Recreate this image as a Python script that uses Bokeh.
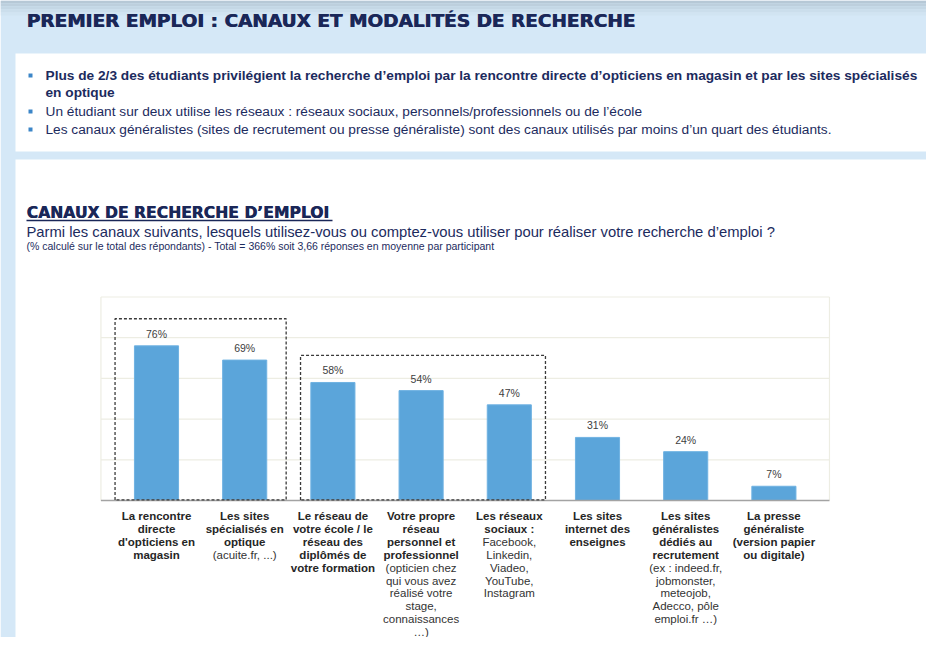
from bokeh.plotting import figure
from bokeh.models import Range1d, ColumnDataSource
from bokeh.core.properties import value
from bokeh.embed import file_html
from bokeh.resources import INLINE

# ---------------- data ----------------
categories = [
    "La rencontre directe d'opticiens en magasin",
    "Les sites spécialisés en optique",
    "Le réseau de votre école / le réseau des diplômés de votre formation",
    "Votre propre réseau personnel et professionnel",
    "Les réseaux sociaux",
    "Les sites internet des enseignes",
    "Les sites généralistes dédiés au recrutement",
    "La presse généraliste",
]
values = [76, 69, 58, 54, 47, 31, 24, 7]
value_labels = ["76%", "69%", "58%", "54%", "47%", "31%", "24%", "7%"]

label_bold = [
    ["La rencontre", "directe", "d'opticiens en", "magasin"],
    ["Les sites", "spécialisés en", "optique"],
    ["Le réseau de", "votre école / le", "réseau des", "diplômés de", "votre formation"],
    ["Votre propre", "réseau", "personnel et", "professionnel"],
    ["Les réseaux", "sociaux :"],
    ["Les sites", "internet des", "enseignes"],
    ["Les sites", "généralistes", "dédiés au", "recrutement"],
    ["La presse", "généraliste", "(version papier", "ou digitale)"],
]
label_normal = [
    [],
    ["(acuite.fr, ...)"],
    [],
    ["(opticien chez", "qui vous avez", "réalisé votre", "stage,", "connaissances", "…)"],
    ["Facebook,", "Linkedin,", "Viadeo,", "YouTube,", "Instagram"],
    [],
    ["(ex : indeed.fr,", "jobmonster,", "meteojob,", "Adecco, pôle", "emploi.fr …)"],
    [],
]
groups = [[0, 1], [2, 3, 4]]
grid_ticks = [20, 40, 60, 80, 100]

page_title = "PREMIER EMPLOI : CANAUX ET MODALITÉS DE RECHERCHE"
bullets = [
    ("Plus de 2/3 des étudiants privilégient la recherche d’emploi par la rencontre directe d’opticiens en magasin et par les sites spécialisés", "bold", True),
    ("en optique", "bold", False),
    ("Un étudiant sur deux utilise les réseaux : réseaux sociaux, personnels/professionnels ou de l’école", "normal", True),
    ("Les canaux généralistes (sites de recrutement ou presse généraliste) sont des canaux utilisés par moins d’un quart des étudiants.", "normal", True),
]
chart_title = "CANAUX DE RECHERCHE D’EMPLOI"
chart_question = "Parmi les canaux suivants, lesquels utilisez-vous ou comptez-vous utiliser pour réaliser votre recherche d’emploi ?"
chart_note = "(% calculé sur le total des répondants) - Total = 366% soit 3,66 réponses en moyenne par participant"

# ---------------- layout constants ----------------
W, H = 926, 637
X0, DX = 156.0, 88.2      # picture x of first bar centre, px per category
Y0, DY = 500.0, 2.035     # picture y of value 0, px per %
PAD = 0.13

FONT = value("Liberation Sans")
NAVY = "#1C2B5E"
DARKNAVY = "#1A2758"
LIGHT = "#D5E8F7"

p = figure(width=W, height=H, output_backend="svg", toolbar_location=None,
           x_range=Range1d((0 - X0) / DX, (W - X0) / DX),
           y_range=Range1d((Y0 - H) / DY, Y0 / DY),
           x_axis_type=None, y_axis_type=None, min_border=0,
           outline_line_color=None, background_fill_color="white",
           border_fill_color="white")
p.grid.visible = False
p.extra_x_ranges = {"px": Range1d(0, W)}
p.extra_y_ranges = {"py": Range1d(H, 0)}
PG = dict(x_range_name="px", y_range_name="py")

# ---------------- page background ----------------
p.quad(left=0, right=W, top=0, bottom=H, fill_color=LIGHT, line_color=None, **PG)
for (t, b, c) in [(0, 3, "#B6C8D6"), (3, 6, "#BDCFDD"), (6, 9, "#C4D7E5"),
                  (9, 12, "#CBDEEC"), (12, 15, "#D1E4F2")]:
    p.quad(left=0, right=W, top=t, bottom=b, fill_color=c, line_color=None, **PG)
p.quad(left=15, right=W, top=53, bottom=151, fill_color="white", line_color=None, **PG)
p.quad(left=15, right=W, top=159, bottom=H, fill_color="white", line_color=None, **PG)

# heavy title (drawn twice, slightly offset, for extra weight)
p.text(x=[26, 26.7], y=[19.5, 19.5], text=[page_title, page_title], text_font=value("DejaVu Sans"),
       text_font_style="bold", text_font_size="18.5px", text_color=DARKNAVY,
       text_baseline="middle", **PG)

by = [75, 92, 111, 129]
for (txt, style, has_bullet), yy in zip(bullets, by):
    p.text(x=[45], y=[yy], text=[txt], text_font=FONT, text_font_style=style,
           text_font_size="13.7px", text_color=NAVY, text_baseline="middle", **PG)
    if has_bullet:
        p.scatter(x=[30], y=[yy], marker="square", size=4, fill_color="#3C86C8",
                  line_color=None, **PG)

p.text(x=[26, 26.5], y=[212.5, 212.5], text=[chart_title, chart_title], text_font=value("DejaVu Sans"),
       text_font_style="bold", text_font_size="15.6px", text_color=DARKNAVY,
       text_baseline="middle", **PG)
p.segment(x0=[26], x1=[332], y0=[220], y1=[220], line_color=DARKNAVY, line_width=1.3, **PG)
p.text(x=[26], y=[231.5], text=[chart_question], text_font=FONT,
       text_font_size="14.8px", text_color=NAVY, text_baseline="middle", **PG)
p.text(x=[26], y=[245.5], text=[chart_note], text_font=FONT,
       text_font_size="10.5px", text_color=NAVY, text_baseline="middle", **PG)

# ---------------- chart ----------------
n = len(values)
xs = list(range(n))
xl, xr = -0.5 - PAD, n - 0.5 + PAD

p.segment(x0=[xl] * len(grid_ticks), x1=[xr] * len(grid_ticks), y0=grid_ticks, y1=grid_ticks,
          line_color="#EDEDE3", line_width=1.2)
p.segment(x0=[xl, xr], x1=[xl, xr], y0=[0, 0], y1=[100, 100], line_color="#EDEDE3", line_width=1.2)

src = ColumnDataSource(dict(x=xs, top=values, lab=value_labels))
p.vbar(x="x", top="top", bottom=0, width=0.5, source=src, fill_color="#5BA5DA",
       line_color="#6FB2E2", line_width=1)
p.segment(x0=[xl], x1=[xr], y0=[0], y1=[0], line_color="#A3A3A3", line_width=1.5)

p.text(x="x", y="top", text="lab", source=src, text_font=FONT, text_font_size="10.5px",
       text_color="#404040", text_align="center", text_baseline="bottom", y_offset=-6)

margins = [(0.47, 0.47), (0.367, 0.41)]
for g, (ml, mr) in zip(groups, margins):
    top = max(values[i] for i in g) + 13.3
    l, r = min(g) - ml, max(g) + mr
    p.line(x=[l, l, r, r, l], y=[0.3, top, top, 0.3, 0.3], line_color="#3A3A3A",
           line_width=1.3, line_dash="3 2")

LS, L0 = 12.9, 15.5
bx, by_, bt, nx, ny, nt = [], [], [], [], [], []
for i, (bl, nl) in enumerate(zip(label_bold, label_normal)):
    k = 0
    for t in bl:
        bx.append(i); by_.append(L0 + LS * k); bt.append(t); k += 1
    for t in nl:
        nx.append(i); ny.append(L0 + LS * k); nt.append(t); k += 1
p.text(x=bx, y=[0] * len(bx), y_offset=by_, text=bt, text_font=FONT, text_font_style="bold",
       text_font_size="11.5px", text_color="#262626", text_align="center", text_baseline="middle")
p.text(x=nx, y=[0] * len(nx), y_offset=ny, text=nt, text_font=FONT,
       text_font_size="11.5px", text_color="#333333", text_align="center", text_baseline="middle")

open("out.html", "w").write(file_html(p, INLINE))
